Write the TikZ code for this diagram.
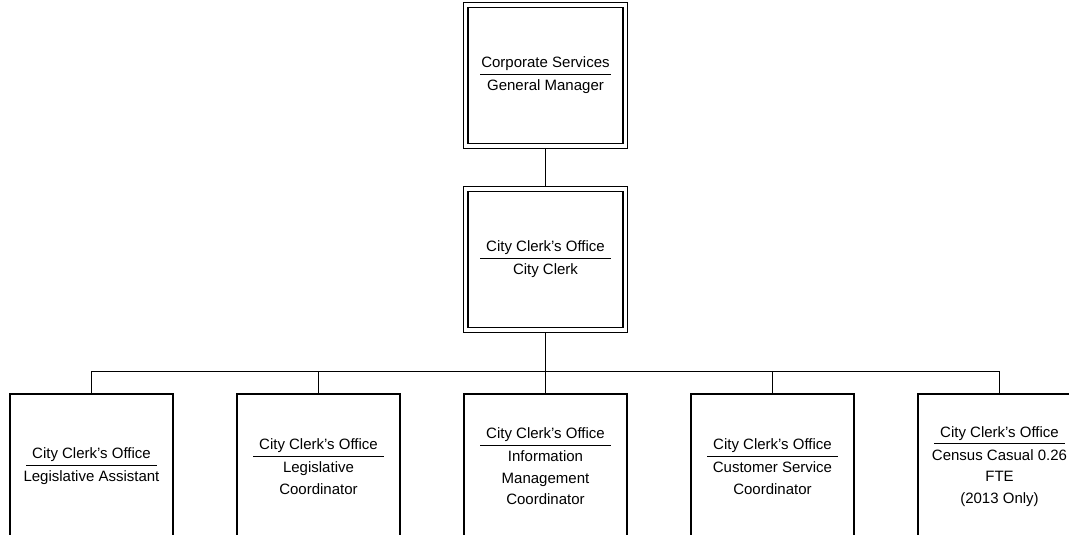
\documentclass[tikz,border=0pt]{standalone}
\usepackage{fontspec}
\setmainfont{Liberation Sans}
\newcommand\orgfont{\fontsize{15}{21.5}\selectfont}
\newcommand\orgsep{\\[-14.5pt]\rule{131pt}{1pt}\\[-5.5pt]}
\tikzset{
  headbox/.style={draw, line width=1.2pt,
    minimum width=155pt, minimum height=136pt, outer sep=4.8pt, inner sep=0pt,
    align=center, font=\orgfont},
  headframe/.style={draw, line width=1.2pt},
  unitbox/.style={draw, line width=1.2pt, minimum width=163pt, minimum height=145pt,
    outer sep=0pt, inner sep=0pt, align=center, font=\orgfont},
  link/.style={line width=1.6pt}
}
\begin{document}
\begin{tikzpicture}[x=1pt,y=-1pt]
\useasboundingbox (0,0) rectangle (1069,535);
\clip (0,0) rectangle (1069,535);
\node[headbox] (gm) at (545.5,75.5) {Corporate Services\orgsep General Manager};
\node[headbox] (cc) at (545.5,259.5) {City Clerk's Office\orgsep City Clerk};
\foreach \h in {gm,cc}
  \draw[headframe] (\h.south west) rectangle (\h.north east);
\node[unitbox] (u1) at (91.5,466.5) {City Clerk's Office\orgsep Legislative Assistant};
\node[unitbox] (u2) at (318.5,466.5) {City Clerk's Office\orgsep Legislative\\Coordinator};
\node[unitbox] (u3) at (545.5,466.5) {City Clerk's Office\orgsep Information\\Management\\Coordinator};
\node[unitbox] (u4) at (772.5,466.5) {City Clerk's Office\orgsep Customer Service\\Coordinator};
\node[unitbox] (u5) at (999.5,466.5) {City Clerk's Office\orgsep Census Casual 0.26\\FTE\\(2013 Only)};
\coordinate (bus) at (545.5,371.5);
\draw[link] (gm.south) -- (cc.north);
\foreach \u in {u1,u2,u3,u4,u5}
  \draw[link] (cc.south) -- (cc.south |- bus) -| (\u.north);
\end{tikzpicture}
\end{document}
